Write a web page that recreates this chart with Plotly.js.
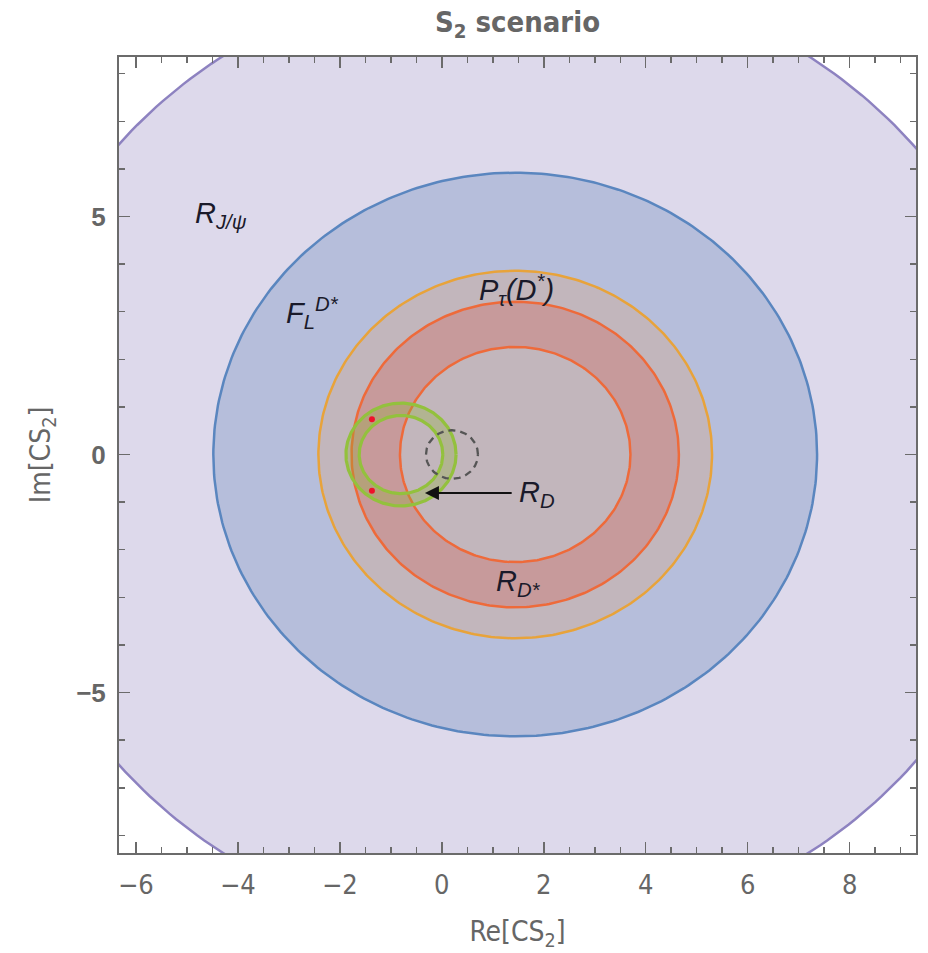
<!DOCTYPE html>
<html>
<head>
<meta charset="utf-8">
<script src="https://cdn.plot.ly/plotly-3.0.1.min.js"></script>
<style>
html,body{margin:0;padding:0;background:#fff;}
#chart{width:928px;height:953px;}
text.gtitle, .xtick text, .ytick text, text.xtitle, text.ytitle { font-stretch: condensed; }
</style>
</head>
<body>
<div id="chart"></div>
<script>
// ---- data ----
const xRange = [-6.33, 9.30];
const yRange = [-8.37, 8.35];
const xTicks = [-6, -4, -2, 0, 2, 4, 6, 8];
const yTicks = [-5, 0, 5];

// disks: R_J/psi, F_L^{D*}, P_tau(D*)
const diskNames = ['R_J/psi', 'F_L D*', 'P_tau D*'];
const diskCx = [1.45, 1.44, 1.44];
const diskCy = [0, 0, 0];
const diskR  = [10.15, 5.92, 3.86];
const diskLine = ['#8d82c0', '#5a86bf', '#e8a33a'];
const diskFill = ['rgba(143,130,190,0.30)', 'rgba(94,129,181,0.30)', 'rgba(223,167,115,0.30)'];

// rings: R_D* band and R_D band
const ringNames = ['R_D*', 'R_D'];
const ringCx = [1.44, -0.80];
const ringCy = [0, 0];
const ringOuter = [3.21, 1.08];
const ringInner = [2.26, 0.82];
const ringLine = ['#ee6a3a', '#93c13d'];
const ringLineW = [2.5, 3.2];
const ringFill = ['rgba(212,90,80,0.30)', 'rgba(143,177,49,0.30)'];

// dashed reference circle
const dashCx = [0.20];
const dashCy = [0];
const dashR = [0.51];

// best-fit points
const ptRe = [-1.37, -1.37];
const ptIm = [0.74, -0.76];

// arrow for R_D
const arrowFrom = [1.40, -0.81];
const arrowTo = [-0.33, -0.81];

// text labels
const labelText = ['R<sub>J/ψ</sub>', 'F<sub>L</sub><sup>D*</sup>', 'P<sub>τ</sub>(D<sup>*</sup>)', 'R<sub>D</sub>', 'R<sub>D*</sub>'];
const labelX = [-4.33, -2.54, 1.46, 1.87, 1.50];
const labelY = [5.04, 2.98, 3.46, -0.83, -2.69];

// ---- geometry helpers ----
function circlePts(cx, cy, r, reverse) {
  const xs = [], ys = [];
  const n = 361;
  for (let i = 0; i < n; i++) {
    const t = (reverse ? -1 : 1) * 2 * Math.PI * i / (n - 1);
    xs.push(cx + r * Math.cos(t));
    ys.push(cy + r * Math.sin(t));
  }
  return {x: xs, y: ys};
}

const traces = [];
for (let i = 0; i < diskR.length; i++) {
  const c = circlePts(diskCx[i], diskCy[i], diskR[i], false);
  traces.push({type: 'scatter', mode: 'lines', x: c.x, y: c.y, fill: 'toself',
    fillcolor: diskFill[i], line: {color: diskLine[i], width: 2.5}, hoverinfo: 'skip', name: diskNames[i]});
}
for (let i = 0; i < ringOuter.length; i++) {
  const o = circlePts(ringCx[i], ringCy[i], ringOuter[i], false);
  const n = circlePts(ringCx[i], ringCy[i], ringInner[i], true);
  traces.push({type: 'scatter', mode: 'lines', x: o.x.concat(n.x), y: o.y.concat(n.y), fill: 'toself',
    fillcolor: ringFill[i], line: {width: 0, color: 'rgba(0,0,0,0)'}, hoverinfo: 'skip', name: ringNames[i]});
  traces.push({type: 'scatter', mode: 'lines', x: o.x, y: o.y,
    line: {color: ringLine[i], width: ringLineW[i]}, hoverinfo: 'skip'});
  const n2 = circlePts(ringCx[i], ringCy[i], ringInner[i], false);
  traces.push({type: 'scatter', mode: 'lines', x: n2.x, y: n2.y,
    line: {color: ringLine[i], width: ringLineW[i]}, hoverinfo: 'skip'});
}
for (let i = 0; i < dashR.length; i++) {
  const c = circlePts(dashCx[i], dashCy[i], dashR[i], false);
  traces.push({type: 'scatter', mode: 'lines', x: c.x, y: c.y,
    line: {color: '#555555', width: 2.3, dash: '7px,5px'}, hoverinfo: 'skip'});
}
traces.push({type: 'scatter', mode: 'markers', x: ptRe, y: ptIm,
  marker: {color: '#f0102a', size: 6}, hoverinfo: 'skip'});

const annotations = [];
for (let i = 0; i < labelText.length; i++) {
  annotations.push({x: labelX[i], y: labelY[i], xref: 'x', yref: 'y', text: labelText[i], showarrow: false,
    font: {family: 'Liberation Sans, Arial, sans-serif', size: 29, color: '#1a1a2a', style: 'italic'}});
}
annotations.push({x: arrowTo[0], y: arrowTo[1], ax: arrowFrom[0], ay: arrowFrom[1], xref: 'x', yref: 'y',
  axref: 'x', ayref: 'y', text: '', showarrow: true, arrowhead: 2, arrowsize: 1.4, arrowwidth: 2, arrowcolor: '#111'});

const condFam = '"DejaVu Sans", "Liberation Sans", sans-serif';
const axisFont = {family: condFam, size: 27, color: '#666666'};
const layout = {
  width: 928, height: 953,
  margin: {l: 119, r: 12, t: 57, b: 100.3},
  paper_bgcolor: '#ffffff', plot_bgcolor: '#ffffff',
  showlegend: false,
  title: {text: 'S<sub>2</sub> scenario', font: {family: condFam, size: 29, color: '#666666', weight: 'bold'},
    x: 0.5, xref: 'paper', y: 1 - 22 / 953, yref: 'container', yanchor: 'middle'},
  xaxis: {range: xRange, tickvals: xTicks, ticktext: xTicks.map(v => v < 0 ? '−' + Math.abs(v) : String(v)),
    showgrid: false, zeroline: false, showline: true, linecolor: '#6b6b6b', linewidth: 2, mirror: 'ticks',
    ticks: 'inside', ticklen: 11, tickwidth: 1.5, tickcolor: '#6b6b6b',
    minor: {dtick: 0.5, ticks: 'inside', ticklen: 6, tickwidth: 1.5, tickcolor: '#6b6b6b', showgrid: false},
    tickfont: axisFont, ticklabelstandoff: 7,
    title: {text: 'Re[CS<sub>2</sub>]', font: {family: condFam, size: 28, color: '#666666'}, standoff: 22}},
  yaxis: {range: yRange, tickvals: yTicks, ticktext: yTicks.map(v => v < 0 ? '−' + Math.abs(v) : String(v)),
    showgrid: false, zeroline: false, showline: true, linecolor: '#6b6b6b', linewidth: 2, mirror: 'ticks',
    ticks: 'inside', ticklen: 11, tickwidth: 1.5, tickcolor: '#6b6b6b',
    minor: {dtick: 1, ticks: 'inside', ticklen: 6, tickwidth: 1.5, tickcolor: '#6b6b6b', showgrid: false},
    tickfont: {family: 'Liberation Sans, Arial, sans-serif', size: 26, color: '#666666', weight: 'bold'}, ticklabelstandoff: 6,
    title: {text: 'Im[CS<sub>2</sub>]', font: {family: condFam, size: 28, color: '#666666'}, standoff: 17}},
  annotations: annotations
};
Plotly.newPlot('chart', traces, layout, {staticPlot: true, displayModeBar: false});
</script>
</body>
</html>
